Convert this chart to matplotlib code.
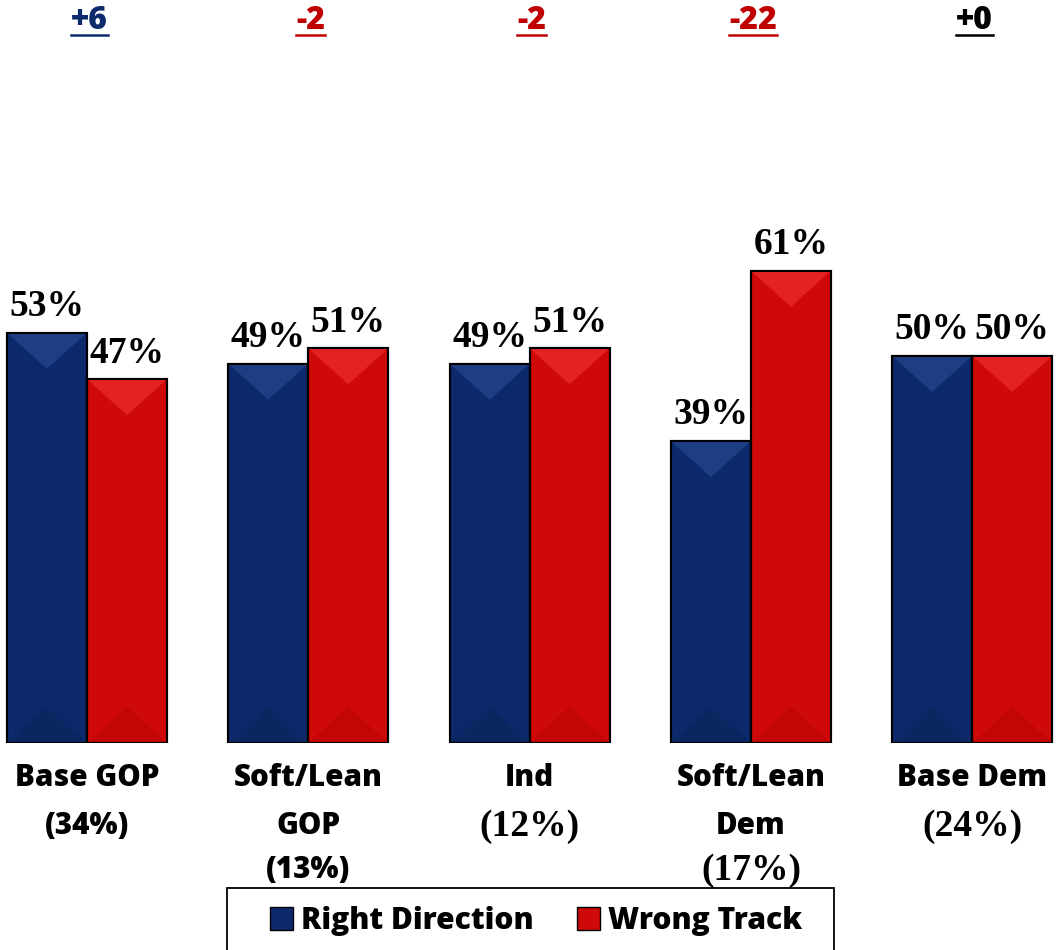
import numpy as np
import matplotlib
matplotlib.use('Agg')
import matplotlib.pyplot as plt
from matplotlib.patches import Patch, Polygon, Rectangle
from matplotlib.lines import Line2D
import matplotlib.transforms as mtransforms

# data
groups = ['Base GOP', 'Soft/Lean GOP', 'Ind', 'Soft/Lean Dem', 'Base Dem']
right_direction = [53, 49, 49, 39, 50]
wrong_track = [47, 51, 51, 61, 50]
diff_labels = ['+6', '-2', '-2', '-22', '+0']
diff_colors = ['#0d2b6b', '#c00000', '#c00000', '#c00000', '#000000']
# label lines: (text, font kind)
cat_lines = [
    [('Base GOP', 'sans'), ('(34%)', 'sans')],
    [('Soft/Lean', 'sans'), ('GOP', 'sans'), ('(13%)', 'sans')],
    [('Ind', 'sans'), ('(12%)', 'serif')],
    [('Soft/Lean', 'sans'), ('Dem', 'sans'), ('(17%)', 'serif')],
    [('Base Dem', 'sans'), ('(24%)', 'serif')],
]

blue = '#0c2a6b'
blue_hi = '#1d3e84'
blue_lo = '#0a2762'
red = '#cf0808'
red_hi = '#e42222'
red_lo = '#c20505'

sans = 'Open Sans'
serif = 'Liberation Serif'
heavy = 800

fig = plt.figure(figsize=(10.57, 9.5), dpi=100)
ax = fig.add_axes([0, (950 - 743) / 950, 1, 743 / 950])

x = np.arange(len(groups))
w = 80 / 221.3
ax.set_xlim(-87 / 221.3, (1057 - 87) / 221.3)
ax.set_ylim(0, 743 / 7.74)
ax.axis('off')

b1 = ax.bar(x - w / 2, right_direction, w, color=blue, edgecolor='black', linewidth=1.5, zorder=2)
b2 = ax.bar(x + w / 2, wrong_track, w, color=red, edgecolor='black', linewidth=1.5, zorder=2)

# bevel look
depth = 36 / 7.74
for bars, hi, lo in [(b1, blue_hi, blue_lo), (b2, red_hi, red_lo)]:
    for r in bars:
        x0, bw, h = r.get_x(), r.get_width(), r.get_height()
        ax.add_patch(Polygon([(x0, h), (x0 + bw, h), (x0 + bw / 2, h - depth)],
                             closed=True, facecolor=hi, edgecolor='none', zorder=2.1))
        ax.add_patch(Polygon([(x0, 0), (x0 + bw, 0), (x0 + bw / 2, depth)],
                             closed=True, facecolor=lo, edgecolor='none', zorder=2.1))
        ax.add_patch(Rectangle((x0, 0), bw, h, facecolor='none', edgecolor='black',
                               linewidth=1.5, zorder=2.2))

for bars, vals in [(b1, right_direction), (b2, wrong_track)]:
    for r, v in zip(bars, vals):
        ax.annotate(f'{v}%', (r.get_x() + r.get_width() / 2, r.get_height()),
                    xytext=(0, 12), textcoords='offset points', ha='center', va='baseline',
                    fontsize=27, fontweight='bold', family=serif, zorder=3)

# category labels
trans = mtransforms.blended_transform_factory(ax.transData, fig.transFigure)
line_y = [1 - 778 / 950, 1 - 826 / 950, 1 - 870 / 950]
for i, lines in enumerate(cat_lines):
    for j, (t, kind) in enumerate(lines):
        if kind == 'sans':
            ax.text(x[i], line_y[j], t, transform=trans, ha='center', va='center',
                    fontsize=21.3, fontweight=heavy, family=sans)
        else:
            ax.text(x[i], line_y[j], t, transform=trans, ha='center', va='center',
                    fontsize=27, fontweight='bold', family=serif)

# differences on top
diff_texts = []
for i, (t, c) in enumerate(zip(diff_labels, diff_colors)):
    diff_texts.append(ax.text(x[i] + 0.01, 1 - 21 / 950, t, transform=trans, ha='center', va='center',
                              fontsize=23, fontweight=heavy, family=sans, color=c))

# legend
handles = [Patch(facecolor=blue, edgecolor='black', label='Right Direction'),
           Patch(facecolor=red, edgecolor='black', label='Wrong Track')]
leg = fig.legend(handles=handles, loc='center', bbox_to_anchor=(536 / 1057, 1 - 921 / 950),
                 ncol=2, frameon=False, borderpad=0, handlelength=0.77, handleheight=0.77,
                 handletextpad=0.26, columnspacing=1.45,
                 prop={'family': sans, 'weight': heavy, 'size': 21.6})
fig.add_artist(Rectangle((227 / 1057, -0.05), (834 - 227) / 1057, 0.05 + (950 - 888) / 950,
                         transform=fig.transFigure, facecolor='none', edgecolor='black',
                         linewidth=1.3))

# underline the difference labels
fig.canvas.draw()
inv = fig.transFigure.inverted()
for t, c in zip(diff_texts, diff_colors):
    bb = t.get_window_extent()
    (fx0, fy0), (fx1, fy1) = inv.transform([(bb.x0, bb.y0), (bb.x1, bb.y1)])
    fig.add_artist(Line2D([fx0, fx1], [fy0 + 2 / 950, fy0 + 2 / 950], color=c,
                          linewidth=1.8, transform=fig.transFigure))

fig.savefig('out.png', dpi=100)
